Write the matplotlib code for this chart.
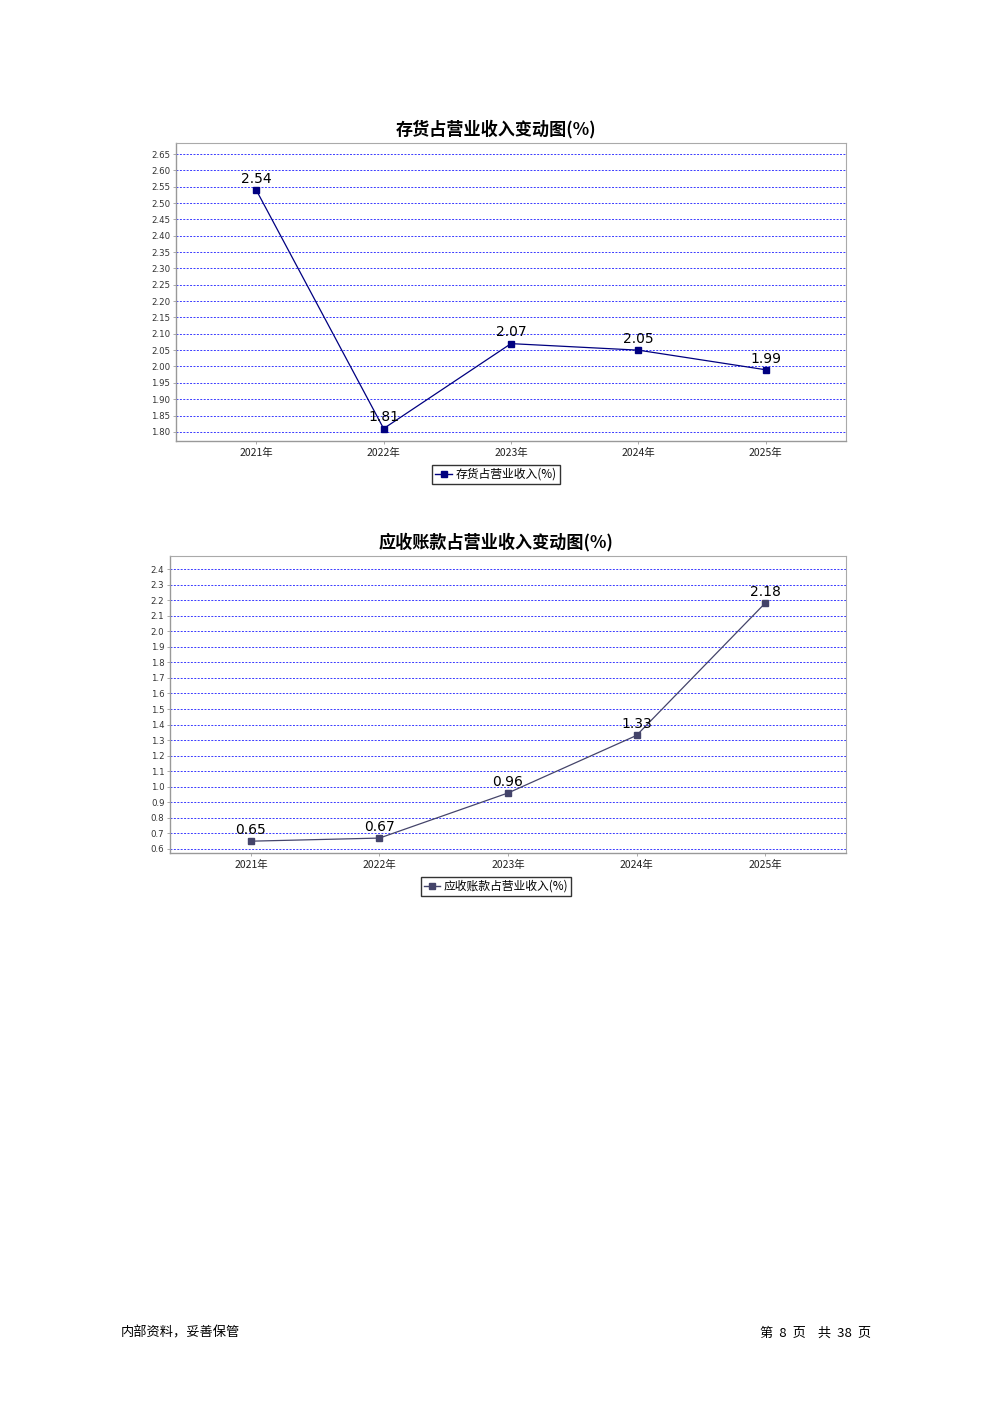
import numpy as np
import matplotlib
matplotlib.use('Agg')
import matplotlib.pyplot as plt

plt.rcParams['font.family'] = ['Noto Sans CJK SC', 'DejaVu Sans']

# data
years = ['2021年', '2022年', '2023年', '2024年', '2025年']
inventory_pct = [2.54, 1.81, 2.07, 2.05, 1.99]
receivable_pct = [0.65, 0.67, 0.96, 1.33, 2.18]

inv_ticks = np.round(np.arange(1.80, 2.651, 0.05), 2)
rec_ticks = np.round(np.arange(0.6, 2.41, 0.1), 1)

W, H = 992, 1403
fig = plt.figure(figsize=(W / 100, H / 100), dpi=100)


def px_axes(left, top, right, bottom):
    return fig.add_axes([left / W, 1 - bottom / H, (right - left) / W, (bottom - top) / H])


def draw_chart(ax, values, ticks, fmt, ylim, color, title, title_y, label, leg_y):
    x = np.arange(len(years))
    ax.plot(x, values, '-', color=color, lw=0.9, marker='s', markersize=5,
            markerfacecolor=color, markeredgecolor=color, zorder=3)
    for xi, v in zip(x, values):
        ax.annotate('%.2f' % v, (xi, v), xytext=(0, 3), textcoords='offset points',
                    ha='center', va='bottom', fontsize=10, family='DejaVu Sans')
    ax.set_xlim(-0.63, 4.63)
    ax.set_ylim(*ylim)
    ax.set_xticks(x)
    ax.set_xticklabels(years, fontsize=7.5, color='#222222')
    ax.set_yticks(ticks)
    ax.set_yticklabels([fmt % t for t in ticks], fontsize=6.2, color='#333333',
                       family='DejaVu Sans')
    ax.tick_params(axis='y', length=2, width=0.5, color='#888888', pad=2)
    ax.tick_params(axis='x', length=2, width=0.5, color='#888888', pad=3)
    ax.grid(True, axis='y', color='#3a3aff', linestyle=(0, (2, 1.5)), lw=0.7)
    ax.set_axisbelow(True)
    for s in ['left', 'bottom']:
        ax.spines[s].set_color('#999999')
        ax.spines[s].set_linewidth(1.0)
    for s in ['top', 'right']:
        ax.spines[s].set_color('#aaaaaa')
        ax.spines[s].set_linewidth(0.8)
    fig.text(496 / W, 1 - title_y / H, title, ha='center', va='center',
             fontsize=12.3, fontweight='bold')
    h, = ax.plot([], [], '-', color=color, marker='s', markersize=4.5, lw=1)
    leg = ax.legend([h], [label], loc='upper center',
                    bbox_to_anchor=(496 / W, 1 - leg_y / H),
                    bbox_transform=fig.transFigure, fontsize=8.5, frameon=True,
                    fancybox=False, edgecolor='black', handlelength=1.4,
                    handletextpad=0.3, borderpad=0.25, borderaxespad=0)
    leg.get_frame().set_linewidth(1.0)


ax1 = px_axes(176, 143, 846, 441)
draw_chart(ax1, inventory_pct, inv_ticks, '%.2f', (1.772, 2.684), '#000080',
           '存货占营业收入变动图(%)', 129, '存货占营业收入(%)', 465)

ax2 = px_axes(170, 556, 846, 853)
draw_chart(ax2, receivable_pct, rec_ticks, '%.1f', (0.574, 2.484), '#44446a',
           '应收账款占营业收入变动图(%)', 542, '应收账款占营业收入(%)', 877)

fig.text(121 / W, 1 - 1333 / H, '内部资料，妥善保管', ha='left', va='center', fontsize=9.5)
fig.text(871 / W, 1 - 1333 / H, '第  8  页    共  38  页', ha='right', va='center', fontsize=9.5)

fig.savefig('out.png', dpi=100)
